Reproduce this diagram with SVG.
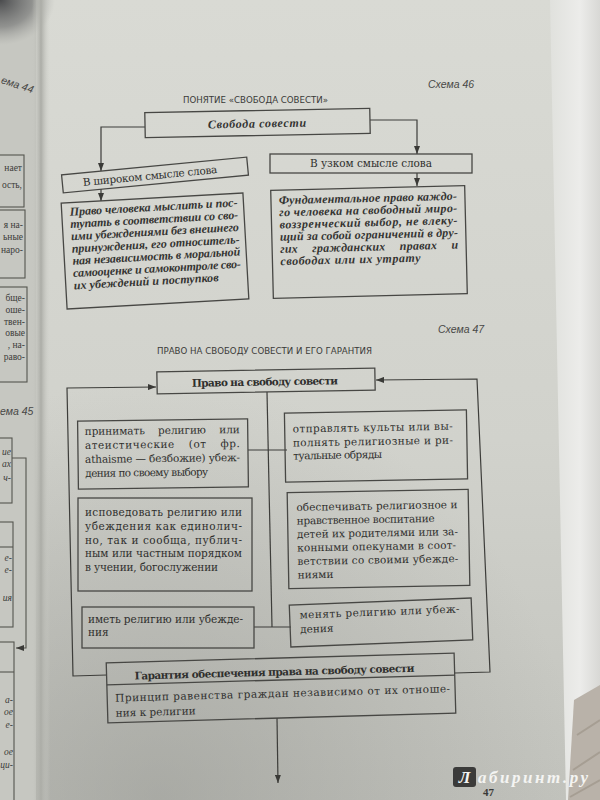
<svg xmlns="http://www.w3.org/2000/svg" width="600" height="800" viewBox="0 0 600 800">
<style>
.bx{fill:none;stroke:#474744;stroke-width:1.3}
.cn{fill:none;stroke:#3d3d3a;stroke-width:1.2}
.t{font-family:"DejaVu Serif","Liberation Serif",serif;font-size:10.5px;fill:#2f2f2d}
.ti{font-family:"Liberation Serif","DejaVu Serif",serif;font-style:italic;font-weight:bold;font-size:12px;fill:#343432}
.b{font-weight:bold}
.cap{font-family:"DejaVu Sans","Liberation Sans",sans-serif;font-size:9.5px;fill:#3a3a38}
.sch{font-family:"Liberation Sans","DejaVu Sans",sans-serif;font-style:italic;font-size:10.5px;fill:#484846}
.lp{font-family:"Liberation Serif",serif;font-size:9.5px;fill:#3c3c3a}
.lb{fill:none;stroke:#55554f;stroke-width:1.1}
</style>
<defs>
<linearGradient id="pg" x1="0" y1="0" x2="0" y2="1">
<stop offset="0" stop-color="#d9dad4"/>
<stop offset="0.55" stop-color="#d1d2cc"/>
<stop offset="1" stop-color="#c2c3bd"/>
</linearGradient>
<radialGradient id="shadow" gradientUnits="userSpaceOnUse" cx="160" cy="800" r="420">
<stop offset="0" stop-color="#8a8b86" stop-opacity="0.45"/>
<stop offset="1" stop-color="#8a8b86" stop-opacity="0"/>
</radialGradient>
<linearGradient id="gutter" x1="0" y1="0" x2="1" y2="0">
<stop offset="0" stop-color="#c6c7c1" stop-opacity="0"/>
<stop offset="0.5" stop-color="#acada7"/>
<stop offset="1" stop-color="#d0d1cb" stop-opacity="0"/>
</linearGradient>
<linearGradient id="edge" x1="0" y1="0" x2="1" y2="0">
<stop offset="0" stop-color="#e0e1dd"/>
<stop offset="0.6" stop-color="#ececea"/>
<stop offset="1" stop-color="#d8d8d5"/>
</linearGradient>
<radialGradient id="corner" cx="0" cy="0" r="1">
<stop offset="0" stop-color="#4a4b4d"/>
<stop offset="0.6" stop-color="#6e6f6f" stop-opacity="0.6"/>
<stop offset="1" stop-color="#9a9b97" stop-opacity="0"/>
</radialGradient>
<marker id="ah" markerUnits="userSpaceOnUse" markerWidth="8" markerHeight="6" refX="8" refY="3" orient="auto">
<path d="M0,0 L8,3 L0,6 z" fill="#3a3a37"/>
</marker>
</defs>

<g id="background">
<rect x="0" y="0" width="600" height="800" fill="url(#pg)"/>
<rect x="0" y="0" width="600" height="800" fill="url(#shadow)"/>
<rect x="0" y="0" width="36" height="800" fill="#c6c7c1"/>
<rect x="0" y="0" width="55" height="45" fill="url(#corner)"/>
<rect x="32" y="0" width="18" height="800" fill="url(#gutter)"/>
<polygon points="550,0 600,0 600,800 566,800" fill="url(#edge)"/>
<polygon points="574,700 600,685 600,800 568,800" fill="#b9b2a9"/>
<path d="M577,735 L600,720 M573,770 L600,752 M570,797 L600,780" stroke="#a69e93" stroke-width="2" fill="none"/>
</g>

<g id="prev-page">
<text class="sch" x="0" y="86" transform="rotate(18 10 86)" font-size="9">ема 44</text>
<rect class="lb" x="-5" y="155" width="29" height="52"/>
<text class="lp" x="22" y="171" text-anchor="end">нает</text>
<text class="lp" x="22" y="188" text-anchor="end">ость,</text>
<rect class="lb" x="-5" y="210" width="30" height="68"/>
<text class="lp" x="23" y="228" text-anchor="end">я на-</text>
<text class="lp" x="23" y="240" text-anchor="end">ьные</text>
<text class="lp" x="23" y="253" text-anchor="end">наро-</text>
<rect class="lb" x="-5" y="287" width="32" height="95"/>
<text class="lp" x="25" y="301" text-anchor="end">бще-</text>
<text class="lp" x="25" y="313" text-anchor="end">оше-</text>
<text class="lp" x="25" y="325" text-anchor="end">твен-</text>
<text class="lp" x="25" y="336" text-anchor="end">овые</text>
<text class="lp" x="25" y="348" text-anchor="end">, на-</text>
<text class="lp" x="25" y="360" text-anchor="end">раво-</text>
<text class="sch" x="0" y="415" font-size="9">ема 45</text>
<rect class="lb" x="-5" y="438" width="17" height="65"/>
<text class="lp" x="11" y="455" text-anchor="end" font-style="italic">ие</text>
<text class="lp" x="11" y="467" text-anchor="end" font-style="italic">ах</text>
<text class="lp" x="11" y="481" text-anchor="end" font-style="italic">ч-</text>
<path class="lb" d="M12,458 H26 V648 H16" marker-end="url(#ah)"/>
<rect class="lb" x="-5" y="522" width="18" height="105"/>
<line class="lb" x1="-5" y1="547" x2="13" y2="547"/>
<text class="lp" x="12" y="561" text-anchor="end" font-style="italic">е-</text>
<text class="lp" x="12" y="573" text-anchor="end" font-style="italic">е-</text>
<text class="lp" x="12" y="601" text-anchor="end" font-style="italic">ия</text>
<rect class="lb" x="-5" y="642" width="19" height="170"/>
<line class="lb" x1="-5" y1="672" x2="14" y2="672"/>
<text class="lp" x="13" y="703" text-anchor="end" font-style="italic">а-</text>
<text class="lp" x="13" y="715" text-anchor="end" font-style="italic">ое</text>
<text class="lp" x="13" y="728" text-anchor="end" font-style="italic">е-</text>
<text class="lp" x="13" y="755" text-anchor="end" font-style="italic">ое</text>
<text class="lp" x="13" y="768" text-anchor="end" font-style="italic">ци-</text>
</g>

<g id="headings">
<text class="sch" x="428" y="88">Схема 46</text>
<text class="cap" x="183" y="103" textLength="145" lengthAdjust="spacingAndGlyphs">ПОНЯТИЕ «СВОБОДА СОВЕСТИ»</text>
<text class="sch" x="438" y="333">Схема 47</text>
<text class="cap" x="157" y="354" textLength="215" lengthAdjust="spacingAndGlyphs">ПРАВО НА СВОБОДУ СОВЕСТИ И ЕГО ГАРАНТИЯ</text>
</g>

<g id="connectors">
<path class="cn" d="M145,127 H101 V171" marker-end="url(#ah)"/>
<path class="cn" d="M370,120 H417 V154" marker-end="url(#ah)"/>
<path class="cn" d="M417,173 V186" marker-end="url(#ah)"/>
<path class="cn" d="M101,189 V201" marker-end="url(#ah)"/>
<path class="cn" d="M107,675 L73,676 L67,388 L156,387" marker-end="url(#ah)"/>
<path class="cn" d="M455,673 L490,672 L477,379 L376,380" marker-end="url(#ah)"/>
<path class="cn" d="M267,392 L272,627"/>
<path class="cn" d="M248,450 H287"/>
<path class="cn" d="M254,627 H291"/>
<path class="cn" d="M277,718 L278,783" marker-end="url(#ah)"/>
</g>

<g id="n46-root" transform="rotate(-1.1 257 123)">
<rect class="bx" x="145" y="110.5" width="225" height="25"/>
<text class="ti" x="257" y="127.5" text-anchor="middle" textLength="98">Свобода совести</text>
</g>
<g id="n46-broad" transform="rotate(-5.5 155 175)">
<rect class="bx" x="62" y="166" width="186" height="18"/>
<text class="t" x="150" y="179" text-anchor="middle" textLength="135">В широком смысле слова</text>
</g>
<g id="n46-narrow">
<rect class="bx" x="270" y="154" width="202" height="19"/>
<text class="t" x="371" y="167" text-anchor="middle" textLength="122">В узком смысле слова</text>
</g>
<g id="n46-broad-def" transform="rotate(-3.2 155 251)">
<rect class="bx" x="64" y="198" width="182" height="106"/>
<text class="ti" x="72" y="211" textLength="168">Право человека мыслить и пос-</text>
<text class="ti" x="72" y="223.3" textLength="168">тупать в соответствии со сво-</text>
<text class="ti" x="72" y="235.6" textLength="168">ими убеждениями без внешнего</text>
<text class="ti" x="72" y="248" textLength="168">принуждения, его относитель-</text>
<text class="ti" x="72" y="260.2" textLength="168">ная независимость в моральной</text>
<text class="ti" x="72" y="272.5" textLength="168">самооценке и самоконтроле сво-</text>
<text class="ti" x="72" y="284.8" textLength="145">их убеждений и поступков</text>
</g>
<g id="n46-narrow-def" transform="rotate(-1.4 369 242)">
<rect class="bx" x="272" y="188" width="194" height="108"/>
<text class="ti" x="280" y="202" textLength="178">Фундаментальное право каждо-</text>
<text class="ti" x="280" y="214.2" textLength="178">го человека на свободный миро-</text>
<text class="ti" x="280" y="226.4" textLength="178">воззренческий выбор, не влеку-</text>
<text class="ti" x="280" y="238.6" textLength="178">щий за собой ограничений в дру-</text>
<text class="ti" x="280" y="250.8" textLength="178" word-spacing="11">гих гражданских правах и</text>
<text class="ti" x="280" y="263" textLength="140">свободах или их утрату</text>
</g>

<g id="n47-root" transform="rotate(-1 266 381)">
<rect class="bx" x="157" y="370" width="218" height="22"/>
<text class="t b" x="265" y="385.5" text-anchor="middle" textLength="146">Право на свободу совести</text>
</g>
<g id="n47-accept" transform="rotate(-0.7 163 454)">
<rect class="bx" x="78" y="420" width="170" height="68"/>
<text class="t" x="85" y="434" textLength="155" word-spacing="10">принимать религию или</text>
<text class="t" x="85" y="448" textLength="155" word-spacing="10">атеистические (от фр.</text>
<text class="t" x="85" y="462" textLength="155">athaisme — безбожие) убеж-</text>
<text class="t" x="85" y="476" textLength="123">дения по своему выбору</text>
</g>
<g id="n47-cult" transform="rotate(-1 376 446)">
<rect class="bx" x="285" y="411.5" width="182" height="69"/>
<text class="t" x="293" y="431" textLength="160">отправлять культы или вы-</text>
<text class="t" x="293" y="445" textLength="160">полнять религиозные и ри-</text>
<text class="t" x="293" y="458" textLength="89">туальные обряды</text>
</g>
<g id="n47-profess">
<rect class="bx" x="78" y="498" width="174" height="93"/>
<text class="t" x="85" y="516" textLength="157">исповедовать религию или</text>
<text class="t" x="85" y="530" textLength="157">убеждения как единолич-</text>
<text class="t" x="85" y="543.5" textLength="157">но, так и сообща, публич-</text>
<text class="t" x="85" y="557" textLength="157">ным или частным порядком</text>
<text class="t" x="85" y="570.5" textLength="133">в учении, богослужении</text>
</g>
<g id="n47-educate" transform="rotate(-1 378 539)">
<rect class="bx" x="288" y="491" width="181" height="96"/>
<text class="t" x="297" y="509.5" textLength="161">обеспечивать религиозное и</text>
<text class="t" x="297" y="523" textLength="138">нравственное воспитание</text>
<text class="t" x="297" y="536.5" textLength="161">детей их родителями или за-</text>
<text class="t" x="297" y="550" textLength="159">конными опекунами в соот-</text>
<text class="t" x="297" y="563.5" textLength="161">ветствии со своими убежде-</text>
<text class="t" x="297" y="577">ниями</text>
</g>
<g id="n47-have">
<rect class="bx" x="82" y="607" width="172" height="41"/>
<text class="t" x="88" y="623" textLength="155">иметь религию или убежде-</text>
<text class="t" x="88" y="636">ния</text>
</g>
<g id="n47-change" transform="rotate(-2.2 381 622.5)">
<rect class="bx" x="290" y="601.5" width="182" height="42"/>
<text class="t" x="300" y="615.5" textLength="160">менять религию или убеж-</text>
<text class="t" x="300" y="630">дения</text>
</g>
<g id="n47-guarantee" transform="rotate(-1.6 281 688)">
<rect class="bx" x="107" y="658" width="348" height="60"/>
<line class="bx" x1="107" y1="680" x2="455" y2="680"/>
<text class="t b" x="275" y="675.5" text-anchor="middle" textLength="280">Гарантия обеспечения права на свободу совести</text>
<text class="t" x="115" y="697" textLength="335">Принцип равенства граждан независимо от их отноше-</text>
<text class="t" x="115" y="712">ния к религии</text>
</g>

<g id="footer">
<rect x="453" y="767" width="23" height="20" rx="3" fill="#3b3b3a"/>
<text x="464.5" y="783" text-anchor="middle" font-family="Liberation Serif, serif" font-weight="bold" font-style="italic" font-size="17" fill="#f4f4f2">Л</text>
<text x="478" y="783" font-family="Liberation Serif, serif" font-weight="bold" font-style="italic" font-size="17" fill="#f4f4f2" textLength="110">абиринт.ру</text>
<text x="483" y="796" font-family="Liberation Serif, serif" font-weight="bold" font-size="11" fill="#3a3a38">47</text>
</g>
</svg>
